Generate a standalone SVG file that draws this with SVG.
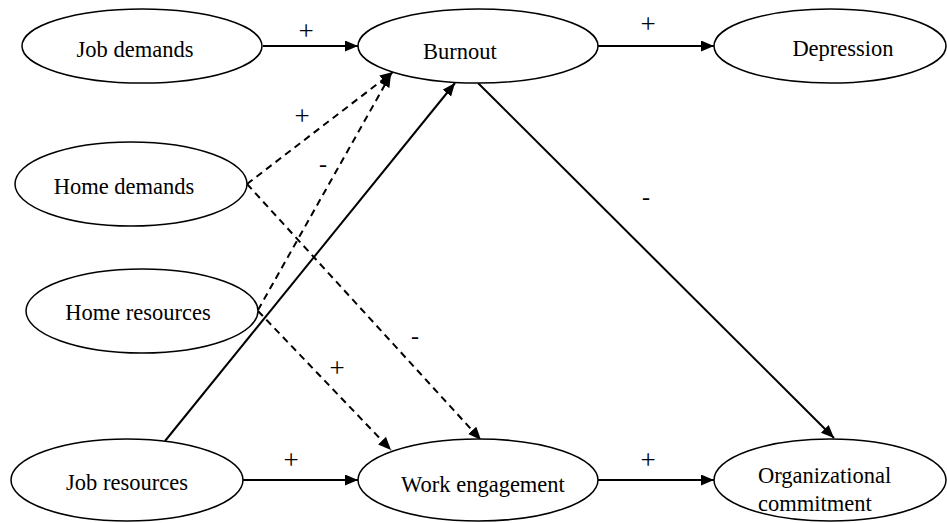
<svg xmlns="http://www.w3.org/2000/svg" width="947" height="523" viewBox="0 0 947 523">
<defs>
<marker id="ah" markerUnits="userSpaceOnUse" markerWidth="14" markerHeight="12" refX="13" refY="5.5" orient="auto">
<path d="M0,0 L13,5.5 L0,11 z" fill="#000"/>
</marker>
<style>
ellipse{fill:#fff;stroke:#000;stroke-width:1.5}
text{font-family:"Liberation Serif","Times New Roman",serif;font-size:22.5px;fill:#000}
.c{text-anchor:middle}
.p{font-size:27px}
.m{font-size:24px}
.l{stroke:#000;stroke-width:2;fill:none;marker-end:url(#ah)}
.d{stroke-dasharray:7,5}
</style>
</defs>
<rect width="947" height="523" fill="#fff"/>
<g id="connectors">
<line class="l" x1="263" y1="46" x2="358" y2="46"/>
<line class="l" x1="598" y1="46" x2="714" y2="46"/>
<line class="l d" x1="247" y1="184" x2="393" y2="72"/>
<line class="l d" x1="258" y1="310" x2="391" y2="74"/>
<line class="l" x1="165" y1="441" x2="455" y2="83"/>
<line class="l d" x1="247" y1="184" x2="481" y2="440"/>
<line class="l d" x1="258" y1="311" x2="391" y2="450"/>
<line class="l" x1="478" y1="83" x2="834" y2="438"/>
<line class="l" x1="243" y1="480" x2="358" y2="480"/>
<line class="l" x1="598" y1="480" x2="714" y2="480"/>
<text class="c p" x="306" y="39.5">+</text>
<text class="c p" x="648" y="33">+</text>
<text class="c p" x="302" y="125">+</text>
<text class="c m" x="323" y="172">-</text>
<text class="c m" x="646" y="205">-</text>
<text class="c m" x="415" y="344">-</text>
<text class="c p" x="337" y="377">+</text>
<text class="c p" x="291" y="469">+</text>
<text class="c p" x="648" y="469">+</text>
</g>
<g id="job-demands"><ellipse cx="142" cy="46" rx="120" ry="37"/><text class="c" x="135" y="57">Job demands</text></g>
<g id="burnout"><ellipse cx="478" cy="46" rx="120" ry="37"/><text class="c" x="460" y="59">Burnout</text></g>
<g id="depression"><ellipse cx="830" cy="46" rx="116" ry="37"/><text class="c" x="843" y="56">Depression</text></g>
<g id="home-demands"><ellipse cx="131" cy="184" rx="116" ry="42"/><text class="c" x="124" y="194">Home demands</text></g>
<g id="home-resources"><ellipse cx="142" cy="311" rx="116" ry="42"/><text class="c" x="138" y="320">Home resources</text></g>
<g id="job-resources"><ellipse cx="127" cy="480" rx="116" ry="41"/><text class="c" x="127" y="490">Job resources</text></g>
<g id="work-engagement"><ellipse cx="478" cy="480" rx="120" ry="41"/><text class="c" x="483" y="492">Work engagement</text></g>
<g id="organizational-commitment"><ellipse cx="830" cy="480" rx="116" ry="41"/><text x="758" y="483">Organizational</text><text x="758" y="511">commitment</text></g>
</svg>
